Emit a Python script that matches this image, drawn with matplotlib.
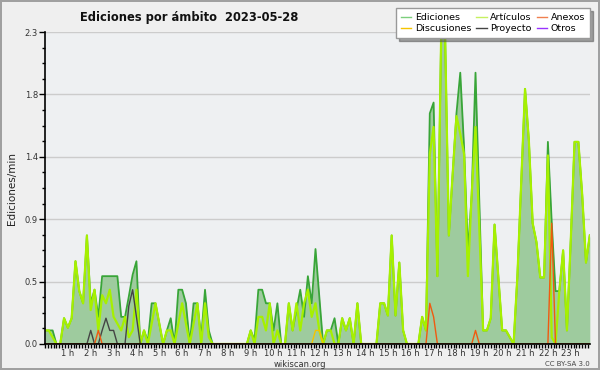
# edits per minute by namespace, wikiscan style

import matplotlib
matplotlib.use("Agg")
import matplotlib.pyplot as plt
from matplotlib.ticker import MultipleLocator
import numpy as np

# one value every 10 minutes, 00:00 -> 23:50
ediciones = [
    0.10, 0.10, 0.10, 0.00, 0.00, 0.19,
    0.12, 0.19, 0.61, 0.39, 0.30, 0.80,
    0.30, 0.40, 0.20, 0.50, 0.50, 0.50,
    0.50, 0.50, 0.20, 0.20, 0.35, 0.51,
    0.61, 0.00, 0.10, 0.02, 0.30, 0.30,
    0.15, 0.00, 0.10, 0.19, 0.00, 0.40,
    0.40, 0.30, 0.00, 0.30, 0.30, 0.05,
    0.40, 0.10, 0.00, 0.00, 0.00, 0.00,
    0.00, 0.00, 0.00, 0.00, 0.00, 0.00,
    0.10, 0.03, 0.40, 0.40, 0.30, 0.30,
    0.10, 0.30, 0.00, 0.00, 0.30, 0.10,
    0.25, 0.40, 0.20, 0.50, 0.30, 0.70,
    0.35, 0.00, 0.10, 0.10, 0.19, 0.00,
    0.19, 0.10, 0.19, 0.00, 0.30, 0.00,
    0.00, 0.00, 0.00, 0.00, 0.30, 0.30,
    0.21, 0.80, 0.21, 0.60, 0.10, 0.00,
    0.00, 0.00, 0.00, 0.20, 0.10, 1.70,
    1.78, 0.50, 2.30, 2.30, 0.80, 1.25,
    1.70, 2.00, 1.45, 0.68, 1.10, 2.00,
    1.05, 0.10, 0.10, 0.19, 0.88, 0.49,
    0.10, 0.10, 0.05, 0.00, 0.50, 1.20,
    1.88, 1.50, 0.89, 0.75, 0.49, 0.49,
    1.49, 0.90, 0.39, 0.39, 0.69, 0.10,
    0.76, 1.49, 1.49, 1.10, 0.60, 0.80,
]

articulos = [
    0.10, 0.10, 0.05, 0.00, 0.00, 0.19,
    0.12, 0.19, 0.61, 0.39, 0.30, 0.80,
    0.25, 0.40, 0.10, 0.36, 0.30, 0.40,
    0.20, 0.15, 0.10, 0.20, 0.05, 0.10,
    0.40, 0.00, 0.10, 0.00, 0.15, 0.30,
    0.15, 0.00, 0.10, 0.10, 0.00, 0.15,
    0.30, 0.15, 0.00, 0.15, 0.30, 0.00,
    0.30, 0.05, 0.00, 0.00, 0.00, 0.00,
    0.00, 0.00, 0.00, 0.00, 0.00, 0.00,
    0.10, 0.00, 0.20, 0.20, 0.10, 0.30,
    0.00, 0.10, 0.00, 0.00, 0.30, 0.10,
    0.30, 0.10, 0.30, 0.40, 0.20, 0.30,
    0.10, 0.00, 0.10, 0.10, 0.00, 0.00,
    0.19, 0.10, 0.19, 0.00, 0.30, 0.00,
    0.00, 0.00, 0.00, 0.00, 0.30, 0.30,
    0.21, 0.80, 0.21, 0.60, 0.10, 0.00,
    0.00, 0.00, 0.00, 0.20, 0.10, 1.40,
    1.60, 0.50, 2.30, 2.30, 0.80, 1.25,
    1.68, 1.55, 1.40, 0.50, 1.10, 1.60,
    0.85, 0.10, 0.10, 0.19, 0.88, 0.49,
    0.10, 0.10, 0.05, 0.00, 0.50, 1.20,
    1.88, 1.50, 0.89, 0.75, 0.49, 0.49,
    1.39, 0.05, 0.00, 0.39, 0.69, 0.10,
    0.76, 1.49, 1.49, 1.10, 0.60, 0.80,
]

# sparse series: {slot index: value}
anexos_pts = {14: 0.10, 101: 0.30, 102: 0.20, 113: 0.10, 133: 0.89}
discusiones_pts = {71: 0.10, 72: 0.10}
proyecto_pts = {12: 0.10, 15: 0.10, 16: 0.19, 17: 0.10, 18: 0.10,
                22: 0.28, 23: 0.40, 24: 0.20}
otros_pts = {}

hour_labels = ["%d h" % h for h in range(1, 24)]


def sparse(pts, n):
    out = np.zeros(n)
    for k, v in pts.items():
        out[k] = v
    return out


n = len(ediciones)
x = np.arange(n) / 6.0
anexos = sparse(anexos_pts, n)
discusiones = sparse(discusiones_pts, n)
proyecto = sparse(proyecto_pts, n)
otros = sparse(otros_pts, n)

fig = plt.figure(figsize=(6, 3.7), dpi=100)
fig.patch.set_facecolor("#efefef")
fig.patch.set_edgecolor("#a0a0a0")
fig.patch.set_linewidth(1.5)
ax = fig.add_axes([0.075, 0.0703, 0.908, 0.8432])
ax.set_facecolor("#eef0f2")

ax.fill_between(x, ediciones, color="#9ecb9e", lw=0, zorder=1)
ax.plot(x, otros, color="#9933ff", lw=1, zorder=1.5)
ax.plot(x, ediciones, color="#38a538", lw=1.3, zorder=2)
ax.plot(x, articulos, color="#a6f000", lw=1.6, zorder=3)
ax.plot(x, discusiones, color="#f5c400", lw=1, zorder=4)
ax.plot(x, proyecto, color="#444444", lw=1, zorder=4)
ax.plot(x, anexos, color="#f05a10", lw=1, zorder=5)

ax.set_xlim(0, x[-1])
ax.set_ylim(0, 2.3)

yt = np.linspace(0, 2.3, 6)
ax.set_yticks(yt)
ax.set_yticklabels(["%.1f" % v for v in yt])
ax.yaxis.set_minor_locator(MultipleLocator(2.3 / 20))
ax.set_xticks(np.arange(1, 24))
ax.set_xticklabels(hour_labels)
ax.xaxis.set_minor_locator(MultipleLocator(0.125))
ax.grid(axis="y", color="#cccccc", lw=1, zorder=0)
ax.set_axisbelow(True)

ax.tick_params(which="both", direction="out", colors="black", labelsize=6,
               labelcolor="#333333", width=1)
ax.tick_params(which="major", length=3, pad=0.5)
ax.tick_params(which="minor", length=3)
ax.tick_params(axis="y", which="minor", length=2.5)
ax.tick_params(axis="y", which="major", length=4, pad=1)

for s in ["top", "right"]:
    ax.spines[s].set_visible(False)
for s in ["left", "bottom"]:
    ax.spines[s].set_color("black")
    ax.spines[s].set_linewidth(1.2)
    ax.spines[s].set_zorder(10)

fig.text(0.316, 0.954, "Ediciones por ámbito  2023-05-28", fontsize=8.3,
         fontweight="bold", ha="center", va="center", color="#111111")
fig.text(0.02, 0.49, "Ediciones/min", rotation=90, fontsize=7.5,
         ha="center", va="center", color="#222222")
fig.text(0.5, 0.016, "wikiscan.org", fontsize=6, ha="center", va="center",
         color="#333333")
fig.text(0.983, 0.016, "CC BY-SA 3.0", fontsize=5, ha="right", va="center",
         color="#444444")

handles = [
    plt.Line2D([], [], color="#7ccf7c", lw=1),
    plt.Line2D([], [], color="#f5c400", lw=1),
    plt.Line2D([], [], color="#c6f060", lw=1),
    plt.Line2D([], [], color="#444444", lw=1),
    plt.Line2D([], [], color="#f08050", lw=1),
    plt.Line2D([], [], color="#9933ff", lw=1),
]
labels = ["Ediciones", "Discusiones", "Artículos", "Proyecto", "Anexos", "Otros"]
leg = fig.legend(handles, labels, ncol=3, loc="upper right",
                 bbox_to_anchor=(0.983, 0.978), fontsize=6.8, frameon=True,
                 fancybox=False, shadow=True, handlelength=1.1,
                 handletextpad=0.4, columnspacing=0.5, labelspacing=0.25,
                 borderpad=0.5, borderaxespad=0)
leg.get_frame().set_edgecolor("#999999")
leg.get_frame().set_facecolor("white")

fig.savefig("out.png", dpi=100)
